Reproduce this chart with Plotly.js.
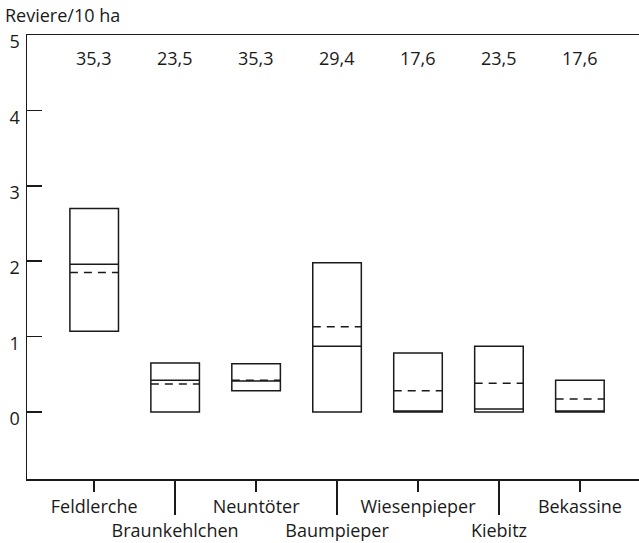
<!DOCTYPE html>
<html>
<head>
<meta charset="utf-8">
<script src="https://cdn.plot.ly/plotly-3.0.1.min.js"></script>
<style>html,body{margin:0;padding:0;background:#fff}#chart{width:639px;height:543px}</style>
</head>
<body>
<div id="chart"></div>
<script>
const species = ["Feldlerche","Braunkehlchen","Neuntöter","Baumpieper","Wiesenpieper","Kiebitz","Bekassine"];
const q1Vals = [1.07, 0.00, 0.28, 0.00, 0.00, 0.00, 0.00];
const medianVals = [1.96, 0.42, 0.41, 0.87, 0.00, 0.04, 0.00];
const q3Vals = [2.70, 0.65, 0.64, 1.98, 0.78, 0.87, 0.42];
const meanVals = [1.85, 0.37, 0.42, 1.13, 0.28, 0.38, 0.17];
const percentLabels = ["35,3","23,5","35,3","29,4","17,6","23,5","17,6"];
const yTicks = [0,1,2,3,4,5];
const yTitle = "Reviere/10 ha";

const FONT = "Open Sans, DejaVu Sans, sans-serif";
const FS = 18;
const INK = "#1a1a1a";

const rowOne = species.filter((s,i)=>i%2===0);
const rowTwo = species.filter((s,i)=>i%2===1);

const traces = [
  {
    type: "box",
    x: species,
    q1: q1Vals,
    median: medianVals,
    q3: q3Vals,
    lowerfence: q1Vals,
    upperfence: q3Vals,
    mean: meanVals,
    boxmean: true,
    boxpoints: false,
    whiskerwidth: 0,
    fillcolor: "rgba(255,255,255,0)",
    line: {color: INK, width: 1.5},
    hoverinfo: "skip",
    showlegend: false
  },
  {
    type: "scatter",
    x: species,
    y: species.map(()=>null),
    xaxis: "x2",
    mode: "markers",
    hoverinfo: "skip",
    showlegend: false
  }
];

const annotations = species.map((s,i)=>({
  x: s, y: 0.949, xref: "x", yref: "paper",
  text: percentLabels[i], showarrow: false,
  font: {family: FONT, size: FS, color: INK},
  xanchor: "center", yanchor: "middle"
}));
annotations.push({
  x: -0.04, y: 1.046, xref: "paper", yref: "paper",
  text: yTitle, showarrow: false,
  font: {family: FONT, size: FS, color: INK},
  xanchor: "left", yanchor: "middle"
});

const xRange = [-0.83, 6.73];

const layout = {
  width: 639, height: 543,
  margin: {l: 27, r: 0, t: 34.5, b: 63.5},
  paper_bgcolor: "#fff", plot_bgcolor: "#fff",
  boxgap: 0.4, boxgroupgap: 0,
  showlegend: false,
  font: {family: FONT, size: FS, color: INK},
  xaxis: {
    type: "category",
    categoryorder: "array", categoryarray: species,
    range: xRange,
    tickmode: "array", tickvals: rowOne, ticktext: rowOne,
    ticks: "outside", ticklen: 11, tickwidth: 1.5, tickcolor: INK,
    showline: true, mirror: true, linecolor: INK, linewidth: 1.5,
    showgrid: false, zeroline: false,
    tickfont: {family: FONT, size: FS, color: INK},
    fixedrange: true
  },
  xaxis2: {
    type: "category",
    categoryorder: "array", categoryarray: species,
    overlaying: "x", anchor: "y", side: "bottom",
    range: xRange,
    tickmode: "array", tickvals: rowTwo, ticktext: rowTwo,
    ticks: "outside", ticklen: 35, tickwidth: 1.5, tickcolor: INK,
    showline: false, showgrid: false, zeroline: false,
    tickfont: {family: FONT, size: FS, color: INK},
    fixedrange: true
  },
  yaxis: {
    range: [-0.89, 5],
    tickmode: "array", tickvals: yTicks, ticktext: yTicks.map(String),
    ticks: "inside", ticklen: 15, tickwidth: 1.5, tickcolor: INK,
    showline: true, linecolor: INK, linewidth: 1.5,
    showgrid: false, zeroline: false,
    tickfont: {family: FONT, size: FS, color: INK},
    ticklabelstandoff: 2,
    ticklabelshift: 7,
    fixedrange: true
  },
  annotations: annotations
};

Plotly.newPlot("chart", traces, layout, {displayModeBar: false, staticPlot: true}).then(()=>{
  document.querySelectorAll("#chart path.mean").forEach(p=>{
    p.style.strokeDasharray = "8px,6px";
  });
});
</script>
</body>
</html>
